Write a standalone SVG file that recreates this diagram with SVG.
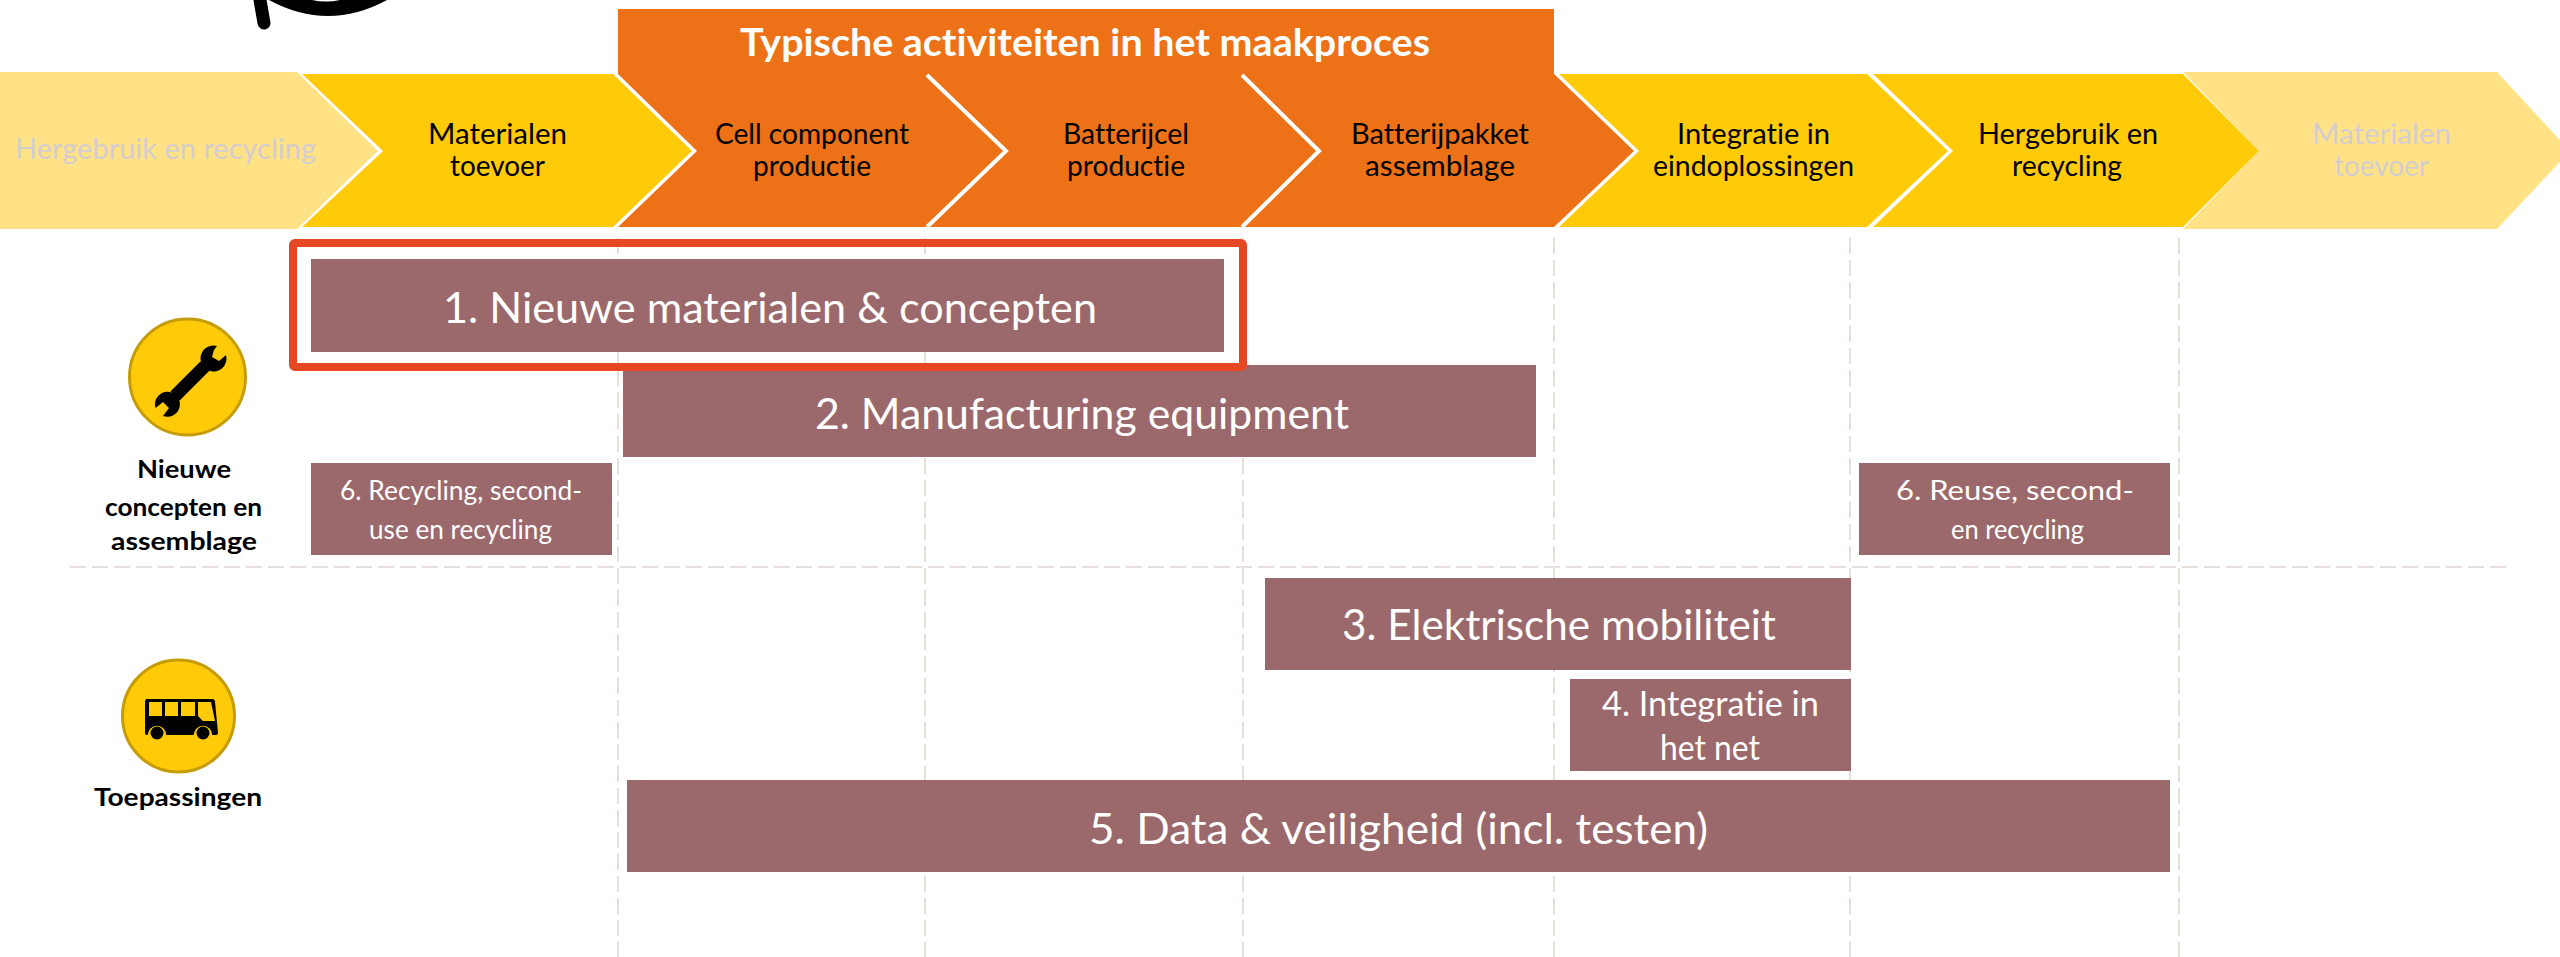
<svg xmlns="http://www.w3.org/2000/svg" width="2560" height="957" viewBox="0 0 2560 957">
<style>
text{font-family:"Lato","Liberation Sans",sans-serif;text-anchor:start;font-variant-ligatures:none;transform:translateY(1px)}
.s{fill:#000;font-size:29px}
.f{fill:#d4cdd0;font-size:29px}
.b{fill:#fff;font-size:42px}
.m{fill:#fff;font-size:34px}
.n{fill:#fff;font-size:26px}
.h{fill:#000;font-size:25px;font-weight:700}
.box{fill:#9b696b}
.y{fill:#ffca08}.l{fill:#ffe285}.o{fill:#ed7117}
.d{stroke:#e6dfdc;stroke-width:2;stroke-dasharray:16 6;fill:none}
.w{stroke:#fff;stroke-width:4;fill:none}
</style>
<rect width="2560" height="957" fill="#fff"/>
<g id="cropped-mark"><path d="M260 0L264 23" stroke="#000" stroke-width="13" stroke-linecap="round" fill="none"/><path d="M269 0Q328 32 387 0Z" fill="#000"/><path d="M312 0Q326 3 340 0Z" fill="#fff"/></g>
<g id="connectors">
<path class="d" d="M618 238V957M925 238V957M1243 238V957M1554 238V957M1850 238V957M2179 238V957M70 567H2510"/>
</g>
<g id="chevron-1"><path class="l" d="M0 72H297L378 151L297 229H0Z"/><text class="f" x="15" y="158" textLength="301" lengthAdjust="spacingAndGlyphs">Hergebruik en recycling</text></g>
<g id="chevron-8"><path class="l" d="M2183 72H2497L2570 151L2497 229H2183L2259 151Z"/><text class="f" x="2312" y="143" textLength="139" lengthAdjust="spacingAndGlyphs">Materialen</text><text class="f" x="2334" y="175" textLength="95" lengthAdjust="spacingAndGlyphs">toevoer</text></g>
<g id="chevron-2"><path class="y" d="M302 74H613L692 151L613 227H302L383 151Z"/><text class="s" x="428" y="143" textLength="139" lengthAdjust="spacingAndGlyphs">Materialen</text><text class="s" x="450" y="175" textLength="95" lengthAdjust="spacingAndGlyphs">toevoer</text></g>
<g id="chevron-6"><path class="y" d="M1559 74H1867L1948 151L1867 227H1559L1639 151Z"/><text class="s" x="1677" y="143" textLength="153" lengthAdjust="spacingAndGlyphs">Integratie in</text><text class="s" x="1653" y="175" textLength="201" lengthAdjust="spacingAndGlyphs">eindoplossingen</text></g>
<g id="chevron-7"><path class="y" d="M1873 74H2183L2259 151L2183 227H1873L1953 151Z"/><text class="s" x="1978" y="143" textLength="180" lengthAdjust="spacingAndGlyphs">Hergebruik en</text><text class="s" x="2012" y="175" textLength="110" lengthAdjust="spacingAndGlyphs">recycling</text></g>
<g id="maakproces">
<path class="o" d="M618 9H1554V74L1634 151L1554 227H618L697 151L618 74Z"/>
<path class="w" d="M927 75L1006 151L927 227M1242 75L1319 151L1242 227"/>
<text x="740" y="55" fill="#fff" font-size="38" font-weight="700" textLength="690" lengthAdjust="spacingAndGlyphs">Typische activiteiten in het maakproces</text>
<text class="s" x="715" y="143" textLength="194" lengthAdjust="spacingAndGlyphs">Cell component</text><text class="s" x="753" y="175" textLength="118" lengthAdjust="spacingAndGlyphs">productie</text>
<text class="s" x="1063" y="143" textLength="126" lengthAdjust="spacingAndGlyphs">Batterijcel</text><text class="s" x="1067" y="175" textLength="118" lengthAdjust="spacingAndGlyphs">productie</text>
<text class="s" x="1351" y="143" textLength="178" lengthAdjust="spacingAndGlyphs">Batterijpakket</text><text class="s" x="1365" y="175" textLength="150" lengthAdjust="spacingAndGlyphs">assemblage</text>
</g>
<g id="box-2"><rect class="box" x="623" y="365" width="913" height="92"/><text class="b" x="815" y="428" textLength="534" lengthAdjust="spacingAndGlyphs">2. Manufacturing equipment</text></g>
<g id="box-1"><rect x="293" y="243" width="950" height="124" rx="2" fill="none" stroke="#e64823" stroke-width="8"/><rect class="box" x="311" y="259" width="913" height="93"/><text class="b" x="443" y="322" textLength="654" lengthAdjust="spacingAndGlyphs">1. Nieuwe materialen &amp; concepten</text></g>
<g id="box-6a"><rect class="box" x="311" y="463" width="301" height="92"/><text class="n" x="340" y="499" textLength="242" lengthAdjust="spacingAndGlyphs">6. Recycling, second-</text><text class="n" x="369" y="538" textLength="183" lengthAdjust="spacingAndGlyphs">use en recycling</text></g>
<g id="box-6b"><rect class="box" x="1859" y="463" width="311" height="92"/><text class="n" x="1896" y="499" textLength="238" lengthAdjust="spacingAndGlyphs">6. Reuse, second-</text><text class="n" x="1951" y="538" textLength="133" lengthAdjust="spacingAndGlyphs">en recycling</text></g>
<g id="box-3"><rect class="box" x="1265" y="578" width="586" height="92"/><text class="b" x="1342" y="639" textLength="434" lengthAdjust="spacingAndGlyphs">3. Elektrische mobiliteit</text></g>
<g id="box-4"><rect class="box" x="1570" y="679" width="281" height="92"/><text class="m" x="1602" y="715" textLength="217" lengthAdjust="spacingAndGlyphs">4. Integratie in</text><text class="m" x="1660" y="759" textLength="100" lengthAdjust="spacingAndGlyphs">het net</text></g>
<g id="box-5"><rect class="box" x="627" y="780" width="1543" height="92"/><text class="b" x="1089" y="843" textLength="619" lengthAdjust="spacingAndGlyphs">5. Data &amp; veiligheid (incl. testen)</text></g>
<g id="icon-tools"><ellipse cx="187.500" cy="377" rx="58" ry="58" fill="#ffca08" stroke="#c69c06" stroke-width="3"/>
<path d="M205 366L175 396" stroke="#000" stroke-width="13" fill="none"/>
<path d="M217 346A13 13 0 1 0 226 355L219 361L212 357L214 350Z" fill="#000"/>
<path d="M155.500 408A12.500 12.500 0 1 1 163 416L169 408L163 402Z" fill="#000"/>
<text class="h" x="137" y="477" textLength="94" lengthAdjust="spacingAndGlyphs">Nieuwe</text><text class="h" x="105" y="515" textLength="157" lengthAdjust="spacingAndGlyphs">concepten en</text><text class="h" x="111" y="549" textLength="146" lengthAdjust="spacingAndGlyphs">assemblage</text></g>
<g id="icon-bus"><ellipse cx="178.500" cy="716" rx="56" ry="56" fill="#ffca08" stroke="#c69c06" stroke-width="3"/>
<path d="M147 699Q145 699 145 702V733Q145 735 147 735H216Q218 735 218 733L215 702Q215 699 212 699Z" fill="#000"/>
<path class="y" d="M149 702H162V716H149ZM165 702H178V716H165ZM181 702H195V716H181ZM198 702H211L215 721H203L198 716Z"/>
<path d="M149 735A8 8 0 0 1 165 735M195 735A8 8 0 0 1 211 735" stroke="#ffca08" stroke-width="2.500" fill="#ffca08"/>
<circle cx="157" cy="733" r="6.500" fill="#000"/><circle cx="203" cy="733" r="6.500" fill="#000"/>
<text class="h" x="94" y="805" textLength="168" lengthAdjust="spacingAndGlyphs">Toepassingen</text></g>
</svg>
